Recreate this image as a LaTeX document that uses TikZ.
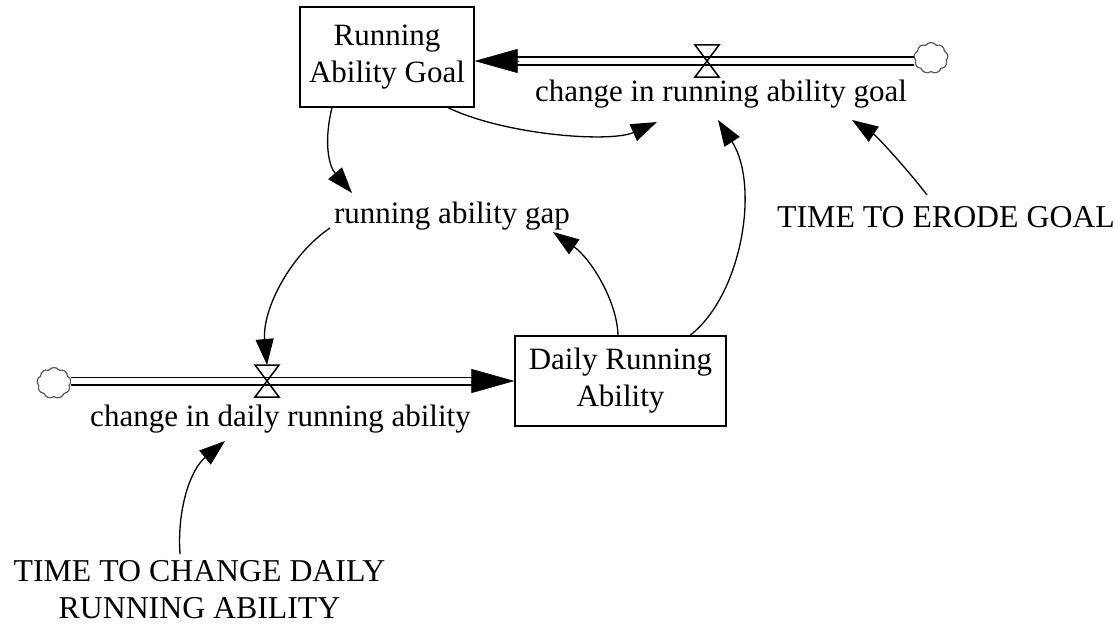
\documentclass[tikz,border=0pt]{standalone}
\usepackage{fontspec}
\setmainfont{Liberation Serif}
\usetikzlibrary{arrows.meta,shapes.symbols,calc}
\tikzset{
  hourglass/.pic={\draw[line width=1.5pt] (-12,-16) -- (12,-16) -- (-12,16) -- (12,16) -- cycle;},
}
\begin{document}
\begin{tikzpicture}[x=1pt,y=-1pt,
  every node/.style={font=\fontsize{31}{37}\selectfont, inner sep=0pt},
  capsfont/.style={font=\fontsize{31.8}{37}\selectfont},
  stock/.style={draw, line width=1.3pt, align=center},
  link/.style={line width=1.3pt, -{Triangle[length=26pt,width=18pt]}},
  pipe/.style={draw, line width=1.5pt, double=white, double distance=6pt},
  pipehead/.style={line width=0.5pt, -{Triangle[length=43pt,width=24pt]}},
  cloudnode/.style={cloud, cloud puffs=9, cloud puff arc=110, draw=black!65, line width=1.2pt, minimum width=34pt, minimum height=31pt, aspect=1.1}]
\useasboundingbox (0,0) rectangle (1115,626);
\clip (0,0) rectangle (1115,626);

\node[stock, minimum width=174pt, minimum height=100pt] (rag) at (387,57) {Running\\Ability Goal};
\node[stock, minimum width=211pt, minimum height=90pt] (dra) at (620.5,381) {Daily Running\\Ability};
\node[cloudnode] (cloudT) at (931,58) {};
\node[cloudnode] (cloudB) at (54,383) {};
\coordinate (vt) at (707,61);
\coordinate (vb) at (267,381);
\node[anchor=base] (lblT) at (721,101) {change in running ability goal};
\node[anchor=base] (lblB) at (280.5,426) {change in daily running ability};
\node[anchor=base] (gap) at (452,223) {running ability gap};
\node[capsfont, anchor=base west] (erode) at (777,227) {TIME TO ERODE GOAL};
\node[capsfont, align=center] (tcdra) at (199.5,590) {TIME TO CHANGE DAILY\\RUNNING ABILITY};

% flows
\draw[pipe] (cloudT.west |- vt) -- ($(rag.east |- vt)+(41,0)$);
\draw[pipehead] ($(rag.east |- vt)+(43,0)$) -- (rag.east |- vt);
\draw[pipe] (cloudB.east |- vb) -- ($(dra.west |- vb)+(-41,0)$);
\draw[pipehead] ($(dra.west |- vb)+(-43,0)$) -- (dra.west |- vb);
\pic at (vt) {hourglass};
\pic at (vb) {hourglass};

% links
\draw[link] ([xshift=-55pt]rag.south) .. controls (324,140) and (328,165) .. ([xshift=-100pt,yshift=30pt]gap.base);
\draw[link] ([xshift=61pt]rag.south) .. controls (505,135) and (610,143) .. ([xshift=-64pt,yshift=-21pt]lblT.base);
\draw[link] ([xshift=69.5pt]dra.north) .. controls (742,295) and (760,185) .. ([xshift=-3pt,yshift=-19pt]lblT.base);
\draw[link] ([xshift=-2.5pt]dra.north) .. controls (617,300) and (590,258) .. ([xshift=101pt,yshift=-9pt]gap.base);
\draw[link] ([xshift=-122pt,yshift=-5pt]gap.base) .. controls (290,255) and (262,310) .. ([yshift=16pt]vb);
\draw[link] ([xshift=150pt,yshift=32pt]erode.base west) .. controls (912,175) and (878,137) .. ([xshift=131pt,yshift=-19pt]lblT.base);
\draw[link] ([xshift=-19.5pt,yshift=6.5pt]tcdra.north) .. controls (177,510) and (190,470) .. ([xshift=-55.5pt,yshift=-15pt]lblB.base);
\end{tikzpicture}
\end{document}
